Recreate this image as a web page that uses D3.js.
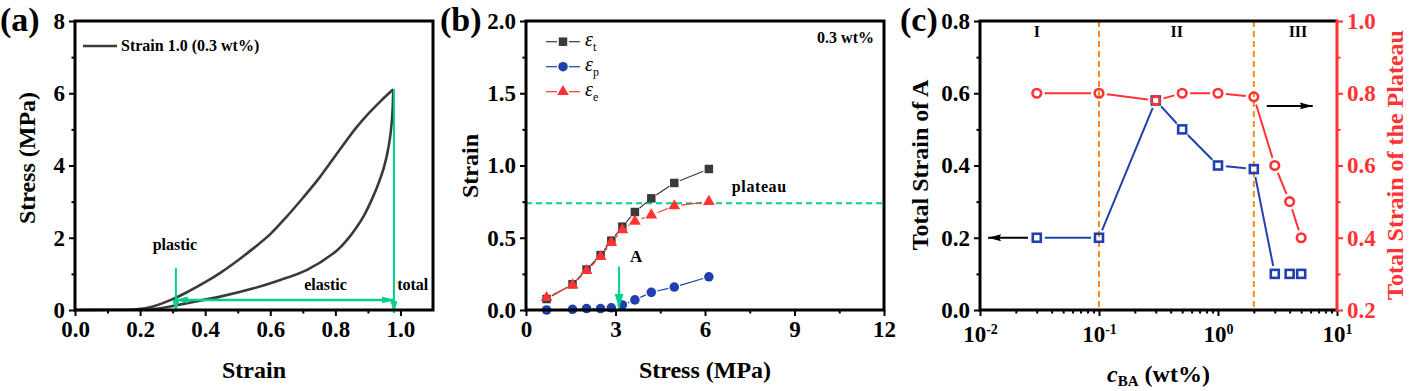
<!DOCTYPE html>
<html><head><meta charset="utf-8">
<script src="https://cdn.jsdelivr.net/npm/d3@7"></script>
<style>
body{margin:0;background:#fff}
svg{display:block}
text{font-family:"Liberation Serif","Times New Roman",serif;font-weight:bold}
</style>
</head><body>
<svg id="c" width="1415" height="391"></svg>
<script>
// ---------- DATA ----------
// Panel (a): loading / unloading curve, Strain vs Stress (MPa)
const loadStrain   = [0, 0.1, 0.19, 0.24, 0.30, 0.35, 0.40, 0.45, 0.50, 0.55, 0.60, 0.65, 0.70, 0.75, 0.80, 0.83, 0.86, 0.90, 0.94, 0.978];
const loadStress   = [0, 0.005, 0.02, 0.1, 0.3, 0.52, 0.77, 1.05, 1.37, 1.72, 2.1, 2.58, 3.1, 3.65, 4.27, 4.64, 5.0, 5.42, 5.79, 6.11];
const unloadStrain = [0.978, 0.974, 0.964, 0.949, 0.928, 0.908, 0.887, 0.86, 0.836, 0.805, 0.713, 0.631, 0.549, 0.446, 0.344, 0.262, 0.22];
const unloadStress = [6.11, 5.28, 4.54, 3.94, 3.4, 2.98, 2.6, 2.22, 1.94, 1.65, 1.11, 0.83, 0.6, 0.37, 0.19, 0.05, 0.0];
const plasticStrain = 0.31, totalStrain = 0.98, arrowStress = 0.28, plasticTop = 1.16;
const xTicksA = [0, 0.2, 0.4, 0.6, 0.8, 1.0], xMinorA = [0.1, 0.3, 0.5, 0.7, 0.9];
const yTicksA = [0, 2, 4, 6, 8], yMinorA = [1, 3, 5, 7];

// Panel (b): strain components vs stress
const stressB = [0.69, 1.56, 2.03, 2.50, 2.86, 3.23, 3.65, 4.20, 4.97, 6.13];
const strainT = [0.076, 0.178, 0.28, 0.38, 0.48, 0.577, 0.678, 0.773, 0.879, 0.976];
const strainP = [0.0, 0.005, 0.01, 0.01, 0.015, 0.035, 0.07, 0.122, 0.159, 0.23];
const strainE = [0.085, 0.173, 0.272, 0.369, 0.466, 0.554, 0.614, 0.657, 0.72, 0.75];
const plateauStrain = 0.738, pointA = 3.12;
const xTicksB = [0, 3, 6, 9, 12], xMinorB = [1.5, 4.5, 7.5, 10.5];
const yTicksB = [0, 0.5, 1.0, 1.5, 2.0], yMinorB = [0.25, 0.75, 1.25, 1.75];

// Panel (c): vs c_BA (wt%)
const cBA = [0.03, 0.1, 0.3, 0.5, 1, 2, 3, 4, 5];
const strainA = [0.2, 0.2, 0.58, 0.5, 0.4, 0.39, 0.1, 0.1, 0.1];
const strainPlateau = [0.8, 0.8, 0.78, 0.8, 0.8, 0.79, 0.6, 0.5, 0.4];
const regionBounds = [0.1, 2];
const regionLabels = ["I", "II", "III"], regionLabelX = [0.03, 0.45, 4.7];
const xTicksC = [0.01, 0.1, 1, 10], xExpC = ["-2", "-1", "0", "1"];
const yTicksCL = [0, 0.2, 0.4, 0.6, 0.8], yMinorCL = [0.1, 0.3, 0.5, 0.7];
const yTicksCR = [0.2, 0.4, 0.6, 0.8, 1.0], yMinorCR = [0.3, 0.5, 0.7, 0.9];

// ---------- STYLE ----------
const green = "#00d28c", blue = "#2040b0", red = "#ff3333", dark = "#3a3a3a", orange = "#ff8c1a";
const FONT = '"Liberation Serif","Times New Roman",serif';

const svg = d3.select("#c");
const defs = svg.append("defs");
function mkMarker(id, len, hw, color, notch) {
  defs.append("marker").attr("id", id)
    .attr("viewBox", `0 ${-hw} ${len} ${2*hw}`).attr("refX", len).attr("refY", 0)
    .attr("markerWidth", len).attr("markerHeight", 2*hw)
    .attr("markerUnits", "userSpaceOnUse").attr("orient", "auto-start-reverse")
    .append("path").attr("d", `M0,${-hw}L${len},0L0,${hw}L${notch},0Z`).attr("fill", color);
}
mkMarker("arrG", 12, 3.5, green, 0);
mkMarker("arrGB", 15, 4.5, green, 0);
mkMarker("arrK", 13, 3.5, "#000", 2);

function axis(g, scale, orient, pos, majors, minors, fmt, color, pad) {
  const mk = orient === "bottom" ? d3.axisBottom : orient === "left" ? d3.axisLeft : d3.axisRight;
  const tr = orient === "bottom" ? `translate(0,${pos})` : `translate(${pos},0)`;
  const res = [];
  if (minors) res.push(g.append("g").attr("transform", tr).call(mk(scale).tickValues(minors).tickSize(3.5).tickFormat("")));
  const gM = g.append("g").attr("transform", tr).call(mk(scale).tickValues(majors).tickSize(6)
    .tickPadding(pad != null ? pad : (orient === "bottom" ? 5 : 4)).tickFormat(fmt));
  res.push(gM);
  res.forEach(a => {
    a.select(".domain").remove();
    a.selectAll("line").attr("stroke", color).attr("stroke-width", 2);
    a.selectAll("text").attr("fill", color).attr("font-size", 23).attr("font-family", FONT).attr("font-weight", "bold");
  });
  return gM;
}
function frame(g, x0, x1, y0, y1) {
  g.append("rect").attr("x", x0).attr("y", y0).attr("width", x1 - x0).attr("height", y1 - y0)
    .attr("fill", "none").attr("stroke", "#000").attr("stroke-width", 3);
}
function txt(g, x, y, s, size, anchor, color) {
  return g.append("text").attr("x", x).attr("y", y).attr("font-size", size)
    .attr("text-anchor", anchor || "start").attr("fill", color || "#000").text(s);
}
function vtitle(g, x, y, s, color) {
  return g.append("text").attr("transform", `translate(${x},${y}) rotate(-90)`)
    .attr("font-size", 24).attr("text-anchor", "middle").attr("fill", color || "#000").text(s);
}
function gapLine(g, pts, gap, color, width) {
  for (let i = 0; i < pts.length - 1; i++) {
    const [x1, y1] = pts[i], [x2, y2] = pts[i + 1];
    const dx = x2 - x1, dy = y2 - y1, L = Math.hypot(dx, dy);
    if (L <= 2 * gap + 0.5) continue;
    const ux = dx / L, uy = dy / L;
    g.append("line").attr("x1", x1 + ux * gap).attr("y1", y1 + uy * gap)
      .attr("x2", x2 - ux * gap).attr("y2", y2 - uy * gap)
      .attr("stroke", color).attr("stroke-width", width);
  }
}

// ---------- PANEL (a) ----------
{
  const L = 75, R = 433, T = 21, B = 310;
  const x = d3.scaleLinear([0, 1.1], [L, R]);
  const y = d3.scaleLinear([0, 8], [B, T]);
  const g = svg.append("g");
  axis(g, x, "bottom", B, xTicksA, xMinorA, d3.format(".1f"), "#000");
  axis(g, y, "left", L, yTicksA, yMinorA, d3.format("d"), "#000");
  const line = d3.line().x(d => x(d[0])).y(d => y(d[1])).curve(d3.curveCatmullRom.alpha(0.5));
  g.append("path").attr("d", line(d3.zip(loadStrain, loadStress)))
    .attr("fill", "none").attr("stroke", dark).attr("stroke-width", 2.6);
  g.append("path").attr("d", line(d3.zip(unloadStrain, unloadStress)))
    .attr("fill", "none").attr("stroke", dark).attr("stroke-width", 2.6);
  // annotations
  g.append("line").attr("x1", x(plasticStrain)).attr("x2", x(plasticStrain)).attr("y1", y(plasticTop)).attr("y2", B + 2)
    .attr("stroke", green).attr("stroke-width", 2).attr("marker-end", "url(#arrG)");
  g.append("line").attr("x1", x(totalStrain)).attr("x2", x(totalStrain)).attr("y1", y(6.12)).attr("y2", B + 3)
    .attr("stroke", green).attr("stroke-width", 2).attr("marker-end", "url(#arrG)");
  g.append("line").attr("x1", x(plasticStrain)).attr("x2", x(totalStrain)).attr("y1", y(arrowStress)).attr("y2", y(arrowStress))
    .attr("stroke", green).attr("stroke-width", 2.5).attr("marker-start", "url(#arrG)").attr("marker-end", "url(#arrG)");
  txt(g, x(0.307), y(1.67), "plastic", 16, "middle");
  txt(g, x(0.77), y(0.56), "elastic", 16, "middle");
  txt(g, x(0.99), y(0.56), "total", 16, "start");
  // legend
  g.append("line").attr("x1", 83).attr("x2", 117).attr("y1", 46).attr("y2", 46).attr("stroke", dark).attr("stroke-width", 2.6);
  txt(g, 121, 51, "Strain 1.0 (0.3 wt%)", 16, "start");
  frame(g, L, R, T, B);
  txt(g, (L + R) / 2, 378, "Strain", 24, "middle");
  vtitle(g, 35, 158, "Stress (MPa)");
  txt(g, 0, 31, "(a)", 34, "start");
}

// ---------- PANEL (b) ----------
{
  const L = 526, R = 884, T = 21, B = 310;
  const x = d3.scaleLinear([0, 12], [L, R]);
  const y = d3.scaleLinear([0, 2], [B, T]);
  const g = svg.append("g");
  axis(g, x, "bottom", B, xTicksB, xMinorB, d3.format("d"), "#000");
  axis(g, y, "left", L, yTicksB, yMinorB, d3.format(".1f"), "#000");
  // plateau line
  g.append("line").attr("x1", L).attr("x2", R).attr("y1", y(plateauStrain)).attr("y2", y(plateauStrain))
    .attr("stroke", green).attr("stroke-width", 2).attr("stroke-dasharray", "6,4");
  const pT = stressB.map((s, i) => [x(s), y(strainT[i])]);
  const pP = stressB.map((s, i) => [x(s), y(strainP[i])]);
  const pE = stressB.map((s, i) => [x(s), y(strainE[i])]);
  gapLine(g, pT, 6, dark, 1.2);
  gapLine(g, pP, 6, blue, 1.2);
  gapLine(g, pE, 7, red, 1.2);
  const sq = d3.symbol(d3.symbolSquare, 72)(), ci = d3.symbol(d3.symbolCircle, 72)(), tri = d3.symbol(d3.symbolTriangle, 60)();
  g.selectAll(".sq").data(pT).join("path").attr("d", sq).attr("transform", d => `translate(${d})`).attr("fill", dark);
  g.selectAll(".ci").data(pP).join("path").attr("d", ci).attr("transform", d => `translate(${d})`).attr("fill", blue);
  g.selectAll(".tr").data(pE).join("path").attr("d", tri).attr("transform", d => `translate(${d[0]},${d[1]})`).attr("fill", red);
  // arrow to A
  g.append("line").attr("x1", x(pointA)).attr("x2", x(pointA)).attr("y1", y(0.3)).attr("y2", y(0.01))
    .attr("stroke", green).attr("stroke-width", 2).attr("marker-end", "url(#arrGB)");
  txt(g, x(3.49), y(0.332), "A", 17, "start");
  txt(g, x(6.9), y(0.817), "plateau", 16, "start").attr("letter-spacing", 0.6);
  txt(g, R - 10, 43, "0.3 wt%", 16, "end");
  // legend
  const leg = [["t", dark, sq], ["p", blue, ci], ["e", red, tri]];
  leg.forEach((d, i) => {
    const yy = 41.7 + i * 25;
    g.append("line").attr("x1", 546).attr("x2", 557).attr("y1", yy).attr("y2", yy).attr("stroke", d[1]).attr("stroke-width", 1.2);
    g.append("line").attr("x1", 569).attr("x2", 580).attr("y1", yy).attr("y2", yy).attr("stroke", d[1]).attr("stroke-width", 1.2);
    g.append("path").attr("d", d[2]).attr("transform", `translate(563,${yy})`).attr("fill", d[1]);
    const t = g.append("text").attr("x", 585).attr("y", yy + 4).attr("font-size", 20)
      .style("font-weight", "normal").style("font-style", "italic");
    t.append("tspan").text("ε");
    t.append("tspan").attr("dy", 5).attr("font-size", 12).style("font-style", "normal").style("font-weight", "normal").text(d[0]);
  });
  frame(g, L, R, T, B);
  txt(g, (L + R) / 2, 378, "Stress (MPa)", 24, "middle");
  vtitle(g, 478, 166, "Strain");
  txt(g, 440, 31, "(b)", 34, "start");
}

// ---------- PANEL (c) ----------
{
  const L = 980, R = 1337, T = 21, B = 310;
  const x = d3.scaleLog([0.01, 10], [L, R]);
  const yL = d3.scaleLinear([0, 0.8], [B, T]);
  const yR = d3.scaleLinear([0.2, 1.0], [B, T]);
  const g = svg.append("g");
  const minorsX = [];
  [0.01, 0.1, 1].forEach(d => { for (let k = 2; k <= 9; k++) minorsX.push(d * k); });
  const gx = axis(g, x, "bottom", B, xTicksC, minorsX, () => "", "#000", 10);
  gx.selectAll("text").each(function(d, i) {
    const t = d3.select(this);
    t.append("tspan").text("10");
    t.append("tspan").attr("dy", -8).attr("font-size", 14).text(xExpC[i]);
  });
  axis(g, yL, "left", L, yTicksCL, yMinorCL, d3.format(".1f"), "#000");
  axis(g, yR, "right", R, yTicksCR, yMinorCR, d3.format(".1f"), red);
  // region boundaries
  regionBounds.forEach(v => {
    g.append("line").attr("x1", x(v)).attr("x2", x(v)).attr("y1", T).attr("y2", B)
      .attr("stroke", orange).attr("stroke-width", 2).attr("stroke-dasharray", "6,4");
  });
  regionLabels.forEach((s, i) => txt(g, x(regionLabelX[i]), 37, s, 16, "middle"));
  const pA = cBA.map((c, i) => [x(c), yL(strainA[i])]);
  const pPl = cBA.map((c, i) => [x(c), yR(strainPlateau[i])]);
  gapLine(g, pA, 8, blue, 2);
  gapLine(g, pPl, 8, red, 2);
  g.selectAll(".sqc").data(pA).join("rect").attr("x", d => d[0] - 4).attr("y", d => d[1] - 4)
    .attr("width", 8).attr("height", 8).attr("fill", "none").attr("stroke", blue).attr("stroke-width", 2.6);
  g.selectAll(".cic").data(pPl).join("circle").attr("cx", d => d[0]).attr("cy", d => d[1]).attr("r", 4.3)
    .attr("fill", "none").attr("stroke", red).attr("stroke-width", 2.6);
  // direction arrows
  g.append("line").attr("x1", x(0.0253)).attr("x2", x(0.0117)).attr("y1", yL(0.2)).attr("y2", yL(0.2))
    .attr("stroke", "#000").attr("stroke-width", 2).attr("marker-end", "url(#arrK)");
  g.append("line").attr("x1", x(2.57)).attr("x2", x(6.25)).attr("y1", yR(0.765)).attr("y2", yR(0.765))
    .attr("stroke", "#000").attr("stroke-width", 2).attr("marker-end", "url(#arrK)");
  // frame: black top/left/bottom, red right
  g.append("path").attr("d", `M${R},${T}H${L}V${B}H${R}`).attr("fill", "none").attr("stroke", "#000").attr("stroke-width", 3);
  g.append("line").attr("x1", R).attr("x2", R).attr("y1", T - 1.5).attr("y2", B + 1.5).attr("stroke", red).attr("stroke-width", 3);
  const xt = g.append("text").attr("x", (L + R) / 2).attr("y", 382).attr("font-size", 24).attr("text-anchor", "middle");
  xt.append("tspan").style("font-style", "italic").text("c");
  xt.append("tspan").attr("font-size", 15).attr("dy", 4).text("BA");
  xt.append("tspan").attr("dy", -4).text(" (wt%)");
  vtitle(g, 928, 165, "Total Strain of A");
  vtitle(g, 1403, 165, "Total Strain of the Plateau", red);
  txt(g, 900, 31, "(c)", 34, "start");
}
</script>
</body></html>
